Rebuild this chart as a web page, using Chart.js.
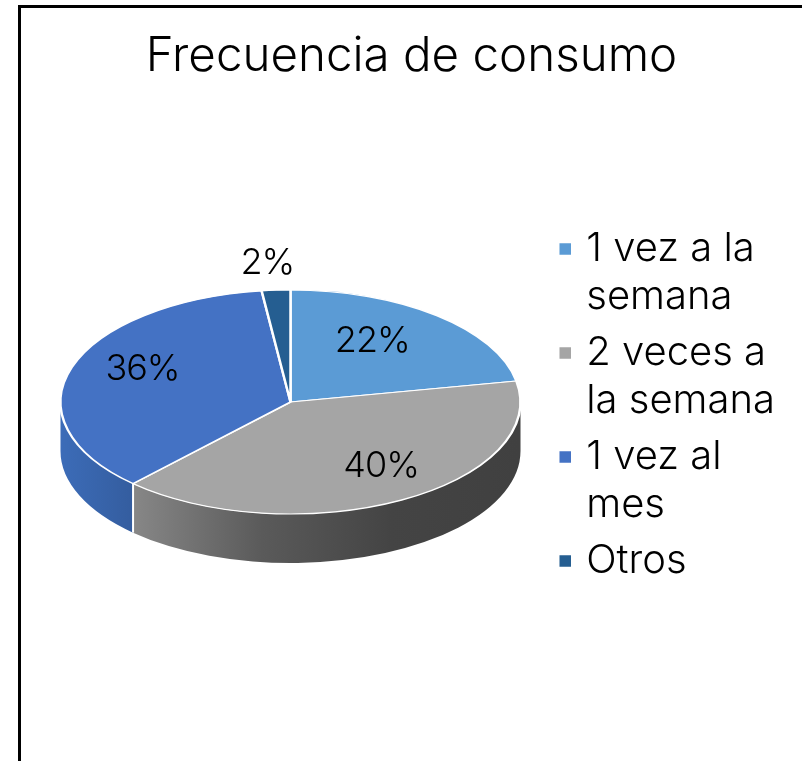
<!DOCTYPE html>
<html>
<head>
<meta charset="utf-8">
<title>Frecuencia de consumo</title>
<script src="https://cdn.jsdelivr.net/npm/chart.js@4"></script>
<style>
  html, body { margin: 0; padding: 0; background: #fff; overflow: hidden; }
  #frame {
    position: absolute; left: 18px; top: 5px; width: 781px; height: 770px;
    border-left: 3px solid #000; border-top: 3px solid #000; border-right: 1px solid #aaa;
  }
  canvas { display: block; }
</style>
</head>
<body>
<div id="frame"><canvas id="chart" width="781" height="753"></canvas></div>
<script>
const chartTitle = "Frecuencia de consumo";
const categories = [["1 vez a la", "semana"], ["2 veces a", "la semana"], ["1 vez al", "mes"], "Otros"];
const values = [22, 40, 36, 2];
const colors = ["#5B9BD5", "#A5A5A5", "#4472C4", "#255E91"];

// side wall shades, left to right (only the slices that reach the front)
const wallShades = [null, ["#878787", "#5a5a5a", "#444444", "#404040"], ["#3c6cb8", "#345d9f"], null];

const fontName = "Inter, 'Open Sans', sans-serif";

// flattened pie: centre inside the canvas, tilt and wall height
const pieX = 269.5, pieY = 394, pieR = 230, tilt = 112 / 230, depth = 49;

// label placement: fraction of the radius, angle nudge in degrees
const labelRadius = [0.66, 0.69, 0.71, 1.25];
const labelNudge = [-7, -6, 7, -1];

const tiltedPie = {
  id: "tiltedPie",
  beforeDatasetsDraw(chart) {
    const ctx = chart.ctx;
    const arcs = chart.getDatasetMeta(0).data;
    ctx.save();

    // walls first, only the part of each slice facing the viewer
    arcs.forEach((arc, i) => {
      if (!wallShades[i]) return;
      const a0 = Math.max(arc.startAngle, 0);
      const a1 = Math.min(arc.endAngle, Math.PI);
      const x0 = pieX + pieR * Math.cos(a1);
      const x1 = pieX + pieR * Math.cos(a0);
      const grad = ctx.createLinearGradient(x1 < x0 ? x1 : x0, 0, x1 < x0 ? x0 : x1, 0);
      wallShades[i].forEach((c, k) => grad.addColorStop(k / (wallShades[i].length - 1), c));
      ctx.beginPath();
      ctx.ellipse(pieX, pieY, pieR, pieR * tilt, 0, a0, a1);
      ctx.ellipse(pieX, pieY + depth, pieR, pieR * tilt, 0, a1, a0, true);
      ctx.closePath();
      ctx.fillStyle = grad;
      ctx.fill();
    });

    // white seam on the wall between slices
    arcs.forEach(arc => {
      if (arc.endAngle <= 0 || arc.endAngle >= Math.PI) return;
      const x = pieX + pieR * Math.cos(arc.endAngle);
      const y = pieY + pieR * tilt * Math.sin(arc.endAngle);
      ctx.beginPath();
      ctx.moveTo(x, y);
      ctx.lineTo(x, y + depth);
      ctx.strokeStyle = "#fff";
      ctx.lineWidth = 2;
      ctx.stroke();
    });

    const a = arcs[0];
    ctx.translate(pieX, pieY);
    ctx.scale(1, tilt);
    ctx.translate(-a.x, -a.y);
  },
  afterDatasetsDraw(chart) {
    const ctx = chart.ctx;
    ctx.restore();

    ctx.save();
    ctx.font = "300 36px " + fontName;
    ctx.letterSpacing = "-1px";
    ctx.fillStyle = "#000";
    ctx.textAlign = "center";
    ctx.textBaseline = "middle";
    chart.getDatasetMeta(0).data.forEach((arc, i) => {
      const mid = (arc.startAngle + arc.endAngle) / 2 + labelNudge[i] * Math.PI / 180;
      const x = pieX + pieR * labelRadius[i] * Math.cos(mid);
      const y = pieY + pieR * tilt * labelRadius[i] * Math.sin(mid);
      ctx.fillText(values[i] + "%", x, y + 1);
    });
    ctx.restore();
  }
};

new Chart(document.getElementById("chart"), {
  type: "pie",
  plugins: [tiltedPie],
  data: {
    labels: categories,
    datasets: [{
      data: values,
      backgroundColor: colors,
      borderColor: "#fff",
      borderWidth: 2.5,
      clip: false
    }]
  },
  options: {
    responsive: false,
    animation: false,
    radius: pieR,
    layout: { padding: { left: 17, right: 17 } },
    plugins: {
      tooltip: { enabled: false },
      title: {
        display: true,
        text: chartTitle,
        color: "#000",
        font: { family: fontName, size: 47.5, weight: "300", lineHeight: 1.2 },
        padding: { top: 20, bottom: 136 }
      },
      legend: {
        position: "right",
        align: "start",
        fullSize: false,
        labels: {
          color: "#000",
          font: { family: fontName, size: 40, weight: "300", lineHeight: 48 / 40 },
          usePointStyle: true,
          pointStyle: "rect",
          boxWidth: 2,
          boxHeight: 14,
          padding: 8
        }
      }
    }
  }
});
</script>
</body>
</html>
